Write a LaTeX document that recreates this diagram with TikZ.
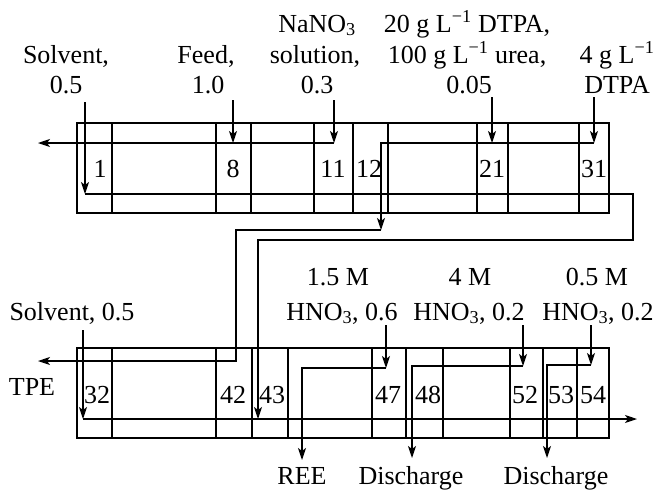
\documentclass[tikz,border=0pt]{standalone}
\usepackage{fontspec}
\setmainfont{Liberation Serif}
\usetikzlibrary{arrows.meta}
\begin{document}
\begin{tikzpicture}[x=1pt,y=-1pt,line width=1.2pt,
  arr/.style={-{Stealth[length=12pt,width=8pt,inset=3pt]}},
  lbl/.style={inner sep=0pt,anchor=base,font=\fontsize{26}{31}\selectfont},
  num/.style={lbl}]
\useasboundingbox (0,0) rectangle (655,491);
% ---- blocks of cells
\draw (77,123) rectangle (609,213);
\foreach \x in {112,216,251,314,353,388,477,508,579} \draw (\x,123) -- (\x,213);
\draw (77,348) rectangle (609,438);
\foreach \x in {112,216,252,288,372,406,443,510,543,577} \draw (\x,348) -- (\x,438);
% ---- cell numbers
\node[num] (n1)  at (100,177) {1};
\node[num] (n8)  at (233,177) {8};
\node[num] (n11) at (333,177) {11};
\node[num] (n12) at (369,177) {12};
\node[num] (n21) at (492,177) {21};
\node[num] (n31) at (594,177) {31};
\node[num] (n32) at (97,403) {32};
\node[num] (n42) at (233,403) {42};
\node[num] (n43) at (272,403) {43};
\node[num] (n47) at (388,403) {47};
\node[num] (n48) at (428,403) {48};
\node[num] (n52) at (525,403) {52};
\node[num] (n53) at (561,403) {53};
\node[num] (n54) at (593,403) {54};
% ---- top labels
\node[lbl] (solA) at (66,63) {Solvent,};
\node[lbl] (solB) at (66,93) {0.5};
\node[lbl] (feedA) at (206,63) {Feed,};
\node[lbl] (feedB) at (208,93) {1.0};
\node[lbl] (naA) at (317,32) {NaNO\textsubscript{3}};
\node[lbl] (naB) at (315,63) {solution,};
\node[lbl] (naC) at (317,93) {0.3};
\node[lbl] (dtA) at (467,32) {20 g L\textsuperscript{−1} DTPA,};
\node[lbl] (dtB) at (467,63) {100 g L\textsuperscript{−1} urea,};
\node[lbl] (dtC) at (469,93) {0.05};
\node[lbl] (d4A) at (617,63) {4 g L\textsuperscript{−1}};
\node[lbl] (d4B) at (617,93) {DTPA};
% ---- lower labels
\node[lbl] (sol2) at (72,320) {Solvent, 0.5};
\node[lbl] (tpe) at (32,395) {TPE};
\node[lbl] (h1A) at (338,285) {1.5 M};
\node[lbl] (h1B) at (342,320) {HNO\textsubscript{3}, 0.6};
\node[lbl] (h2A) at (470,285) {4 M};
\node[lbl] (h2B) at (469,320) {HNO\textsubscript{3}, 0.2};
\node[lbl] (h3A) at (597,285) {0.5 M};
\node[lbl] (h3B) at (598,320) {HNO\textsubscript{3}, 0.2};
\node[lbl] (reeL) at (302,484) {REE};
\node[lbl] (disA) at (411,484) {Discharge};
\node[lbl] (disB) at (556,484) {Discharge};
% ---- flow points, top
\coordinate (sA) at (85,102);  \coordinate (sB) at (85,194);
\coordinate (oR) at (633,194); \coordinate (oD) at (633,240);
\coordinate (oL) at (258,240); \coordinate (f43) at (258,419);
\coordinate (fA) at (233,100); \coordinate (fB) at (233,143);
\coordinate (nA) at (334,100); \coordinate (nB) at (334,143);
\coordinate (raf) at (38,143);
\coordinate (dA) at (492,97);  \coordinate (dB) at (492,143);
\coordinate (eA) at (594,97);  \coordinate (eB) at (594,143);
\coordinate (x12) at (381,143); \coordinate (x12b) at (381,230);
\coordinate (tL) at (236,230); \coordinate (tD) at (236,361);
\coordinate (tpeE) at (38,361);
% ---- flow points, bottom
\coordinate (s2A) at (83,330); \coordinate (s2B) at (83,419);
\coordinate (outR) at (637,419);
\coordinate (hA) at (386,325); \coordinate (hB) at (386,368);
\coordinate (hL) at (302,368); \coordinate (reeE) at (302,460);
\coordinate (iA) at (523,325); \coordinate (iB) at (523,366);
\coordinate (iL) at (412,366); \coordinate (dis1) at (412,458);
\coordinate (jA) at (591,325); \coordinate (jB) at (591,365);
\coordinate (jL) at (547,365); \coordinate (dis2) at (547,458);
% ---- top flows
\draw[arr] (sA) -- (sB);
\draw[arr] (sB) -- (oR) -- (oD) -- (oL) -- (f43);
\draw[arr] (fA) -- (fB);
\draw[arr] (nA) -- (nB);
\draw[arr] (nB) -- (raf);
\draw[arr] (dA) -- (dB);
\draw[arr] (eA) -- (eB);
\draw[arr] (eB) -- (x12) -- (x12b);
\draw[arr] (x12b) -- (tL) -- (tD) -- (tpeE);
% ---- bottom flows
\draw[arr] (s2A) -- (s2B);
\draw[arr] (s2B) -- (outR);
\draw[arr] (hA) -- (hB);
\draw[arr] (hB) -- (hL) -- (reeE);
\draw[arr] (iA) -- (iB);
\draw[arr] (iB) -- (iL) -- (dis1);
\draw[arr] (jA) -- (jB);
\draw[arr] (jB) -- (jL) -- (dis2);
\end{tikzpicture}
\end{document}
